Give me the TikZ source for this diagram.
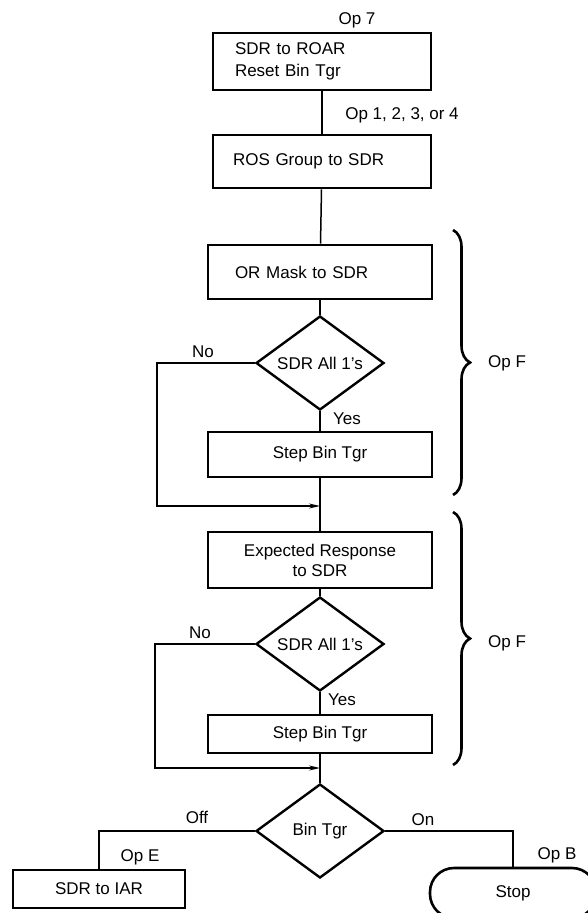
\documentclass[tikz,border=0pt]{standalone}
\usepackage{fontspec}
\setmainfont{Liberation Sans}
\usetikzlibrary{
	arrows.meta,
	positioning,
	shapes.geometric,
	decorations.pathreplacing
}

\begin{document}
\begin{tikzpicture}[>=Stealth,x=1pt,y=-1pt,
		font=\fontsize{17}{20}\selectfont,
		box/.style={draw,line width=2.6pt,inner sep=0pt,minimum width=224pt},
		decision/.style={draw,diamond,line width=2.4pt,inner sep=0pt,aspect=1.36,
			minimum width=128pt,minimum height=94pt},
		line/.style={line width=1.5pt},
		flow/.style={line width=1.5pt,->,>={Stealth[length=11pt,width=5pt]}},
		curly/.style={decorate,decoration={brace,amplitude=17pt},line width=2.6pt}]
		
		\useasboundingbox (0,0) rectangle (587,913);
		
		% Setup
		\node (op7) at (357,20) {Op 7};
		\node[box,minimum width=218pt,minimum height=57pt,inner xsep=22pt,
			text width=174pt,align=left] (roar) at (322,61.5)
		{SDR to ROAR\\[2pt]Reset Bin Tgr};
		\node (op1) at (402,115) {Op 1, 2, 3, or 4};
		\node[box,minimum width=218pt,minimum height=53pt,inner xsep=20pt,
			text width=178pt,align=left] (ros) at (322,161.5) {ROS Group to SDR};
		\draw[line] (roar)--(ros);
		
		% First Op F
		\node[box,minimum height=54pt,inner xsep=27pt,text width=170pt,
			align=left] (mask) at (320,272) {OR Mask to SDR};
		\node[decision] (all1) at (320,363) {SDR All 1's};
		\node[box,minimum height=45pt] (step1) at (320,454.5) {Step Bin Tgr};
		\node (no1) at (203,352) {No};
		\node (yes1) at (347,419) {Yes};
		\coordinate (join1) at (320,506);
		\draw[line] (ros)--(mask);
		\draw[line] (mask)--(all1);
		\draw[line] (all1)--(step1);
		\draw[flow] (all1.west)-|(157,506)--(join1);
		
		% Second Op F
		\node[box,minimum height=56pt,align=center] (resp) at (320,560)
		{Expected Response\\[0pt]to SDR};
		\node[decision] (all2) at (320,644) {SDR All 1's};
		\node[box,minimum height=38pt] (step2) at (320,734) {Step Bin Tgr};
		\node (no2) at (200,633) {No};
		\node (yes2) at (342,700) {Yes};
		\coordinate (join2) at (320,768);
		\draw[line] (step1)--(resp);
		\draw[line] (resp)--(all2);
		\draw[line] (all2)--(step2);
		\draw[flow] (all2.west)-|(155,768)--(join2);
		
		% Braces
		\draw[curly] (453,230)--(453,495);
		\node (opf1) at (507,363) {Op F};
		\draw[curly] (453,512)--(453,765);
		\node (opf2) at (507,643) {Op F};
		
		% Exit
		\node[decision] (bin) at (320,831) {Bin Tgr};
		\node[box,minimum width=172pt,minimum height=38pt] (iar) at (99,889) {SDR to IAR};
		\node[draw,line width=2.6pt,rounded corners=24pt,minimum width=166pt,
			minimum height=50pt] (stop) at (513,893) {Stop};
		\node (off) at (197,817) {Off};
		\node (ope) at (140,857) {Op E};
		\node (on) at (423,820) {On};
		\node (opb) at (557,855) {Op B};
		\draw[line] (step2)--(bin);
		\draw[line] (bin.west)-|(iar.north);
		\draw[line] (bin.east)-|(stop.north);
		
	\end{tikzpicture}
\end{document}
